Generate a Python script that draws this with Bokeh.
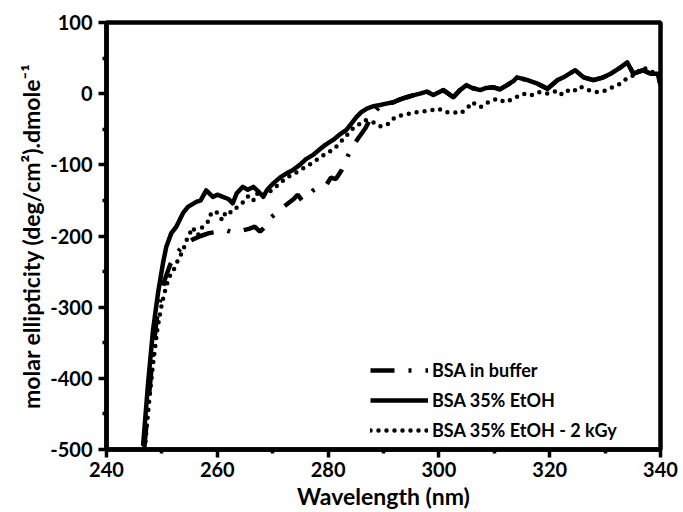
from bokeh.plotting import figure
from bokeh.models import FixedTicker, Legend, LegendItem
from bokeh.embed import file_html
from bokeh.resources import INLINE

# BSA in buffer (dashed)
wl_buffer = [246.8, 247.5, 248.3, 249.0, 249.8, 250.5, 251.5, 252.7, 254.0, 255.5, 257.0, 258.5,
             260.0, 260.7, 261.7, 262.7, 263.6, 264.6, 265.7, 266.8, 267.7, 268.5, 269.1, 270.3,
             271.5, 272.8, 273.8, 274.5, 275.3, 276.1, 277.3, 278.5, 279.7, 280.5, 281.4, 282.4,
             283.3, 284.2, 285.5, 286.7, 288.0, 289.4, 290.5, 291.8, 293.0, 294.2, 295.5,
             296.6, 297.8, 299.0, 300.0, 300.8, 301.7, 302.6, 303.8, 305.0, 306.0, 307.5, 308.5,
             309.9, 311.0, 312.3, 313.5, 314.1, 316.0, 317.8, 319.6, 321.4, 322.5, 324.6, 326.1,
             327.9, 329.7, 331.0, 332.8, 334.0, 335.1, 336.9, 338.2, 339.5, 340.0]
cd_buffer = [-500, -440, -370, -320, -285, -262, -240, -224, -212, -205, -200, -196,
             -194, -194, -192, -195, -193, -192, -190, -187, -194, -188, -178, -170,
             -162, -154, -148, -142, -150, -145, -136, -130, -128, -118, -120, -108,
             -92, -77, -62, -49, -30, -17, -14, -12, -8, -5, -2,
             0, 3, -2, 2, 5, 0, -5, 5, 12, 8, 5, 8,
             9, 6, 12, 18, 23, 19, 14, 7, 19, 23, 33, 23,
             19, 23, 28, 37, 44, 28, 33, 28, 28, 12]

# BSA 35% EtOH (solid)
wl_etoh = [246.6, 247.5, 248.4, 249.3, 250.2, 250.8, 251.7, 252.6, 253.8, 254.7, 256.2, 257.0,
           258.0, 259.2, 260.0, 261.0, 262.0, 262.8, 263.5, 264.6, 265.5, 266.5, 267.5, 268.3,
           269.0, 270.1, 271.3, 272.5, 273.5, 274.9, 276.0, 277.3, 278.5, 279.5, 280.9, 282.0,
           283.3, 284.2, 285.1, 286.0, 287.0, 288.0, 289.4, 290.5, 291.8, 293.0, 294.2, 295.5,
           296.6, 297.8, 299.0, 300.0, 300.8, 301.7, 302.6, 303.8, 305.0, 306.0, 307.5, 308.5,
           309.9, 311.0, 312.3, 313.5, 314.1, 316.0, 317.8, 319.6, 321.4, 322.5, 324.6, 326.1,
           327.9, 329.7, 331.0, 332.8, 334.0, 335.1, 336.9, 338.2, 339.5, 340.0]
cd_etoh = [-495, -407, -332, -280, -238, -215, -196, -187, -168, -159, -152, -150,
           -136, -145, -142, -145, -148, -154, -140, -131, -135, -131, -138, -145,
           -135, -126, -118, -112, -108, -100, -92, -86, -78, -72, -65, -58,
           -51, -42, -33, -26, -21, -18, -16, -14, -12, -8, -5, -2,
           0, 3, -2, 2, 5, 0, -5, 5, 12, 8, 5, 8,
           9, 6, 12, 18, 23, 19, 14, 7, 19, 23, 33, 23,
           19, 23, 28, 37, 44, 28, 33, 28, 28, 12]

# BSA 35% EtOH - 2 kGy (dotted)
wl_irr = [246.9, 247.6, 248.4, 249.2, 250.0, 250.8, 251.5, 252.3, 253.0, 253.8, 254.3, 254.9,
          255.5, 256.0, 256.5, 257.1, 257.7, 258.3, 258.9, 259.4, 259.9, 260.4, 260.9, 261.6,
          262.5, 263.5, 264.6, 265.7, 266.6, 267.4, 268.3, 269.8, 271.0, 272.5, 274.0, 275.5,
          277.0, 278.5, 280.0, 280.9, 282.0, 283.2, 284.3, 285.4, 286.7, 288.1, 289.4, 290.6,
          292.1, 293.4, 294.8, 296.0, 297.2, 298.8, 299.9, 301.1, 302.6, 303.8, 305.1, 306.0,
          307.5, 308.9, 310.5, 312.0, 313.4, 315.2, 316.5, 318.0, 319.5, 321.0, 321.9, 323.0,
          324.1, 325.5, 327.0, 328.6, 330.4, 331.5, 332.8, 333.7, 334.6, 335.8, 336.9, 338.0,
          339.5, 340.0]
cd_irr = [-500, -440, -380, -330, -295, -270, -255, -245, -232, -221, -208, -199,
          -188, -193, -199, -189, -185, -180, -168, -170, -167, -172, -178, -165,
          -167, -160, -153, -143, -150, -138, -142, -136, -128, -118, -112, -105,
          -98, -90, -82, -79, -70, -60, -50, -44, -37, -40, -46, -44,
          -33, -30, -28, -26, -25, -23, -21, -26, -26, -28, -21, -12,
          -19, -12, -7, -12, -7, 0, -3, 2, 0, 3, -2, 5,
          2, 10, 5, 2, 5, 10, 14, 20, 23, 30, 37, 32,
          28, 25]

labels = ["BSA in buffer", "BSA 35% EtOH", "BSA 35% EtOH - 2 kGy"]
x_ticks = [240, 260, 280, 300, 320, 340]
x_minor = [250, 270, 290, 310, 330]
y_ticks = [-500, -400, -300, -200, -100, 0, 100]
y_minor = [-450, -350, -250, -150, -50, 50]

FONT = "Lato"

p = figure(width=683, height=512, x_range=(240, 340), y_range=(-500, 100),
           output_backend="svg", toolbar_location=None,
           min_border_left=106, min_border_right=23, min_border_top=22, min_border_bottom=62)
p.background_fill_color = "white"
p.border_fill_color = "white"
p.grid.visible = False
p.outline_line_color = "black"
p.outline_line_width = 4.5

r_buf = p.line(wl_buffer, cd_buffer, line_color="black", line_width=4.5, line_dash="24 14 3 14")
r_eth = p.line(wl_etoh, cd_etoh, line_color="black", line_width=4.5, line_join="round")
r_irr = p.line(wl_irr, cd_irr, line_color="black", line_width=4.5, line_dash="0 8", line_cap="round")

for ax, ticks, minor in ((p.xaxis[0], x_ticks, x_minor), (p.yaxis[0], y_ticks, y_minor)):
    ax.ticker = FixedTicker(ticks=ticks, minor_ticks=minor)
    ax.major_label_overrides = {t: str(t) for t in ticks}
    ax.axis_line_width = 4.5
    ax.major_tick_line_width = 3.5
    ax.minor_tick_line_width = 3.5
    ax.major_tick_out = 8
    ax.major_tick_in = 0
    ax.minor_tick_out = 4
    ax.minor_tick_in = 0
    ax.major_label_text_font = FONT
    ax.major_label_text_font_style = "bold"
    ax.major_label_text_font_size = "20px"
    ax.major_label_text_color = "black"
    ax.axis_label_text_font = FONT
    ax.axis_label_text_font_style = "bold"
    ax.axis_label_text_font_size = "23px"
    ax.axis_label_text_color = "black"
    ax.major_label_standoff = 4
    ax.axis_label_standoff = 2

p.yaxis[0].major_label_standoff = 6
p.xaxis.axis_label = "Wavelength (nm)"
p.yaxis.axis_label = "molar ellipticity (deg/cm\u00b2).dmole\u207b\u00b9"

legend = Legend(items=[LegendItem(label=labels[0], renderers=[r_buf]),
                       LegendItem(label=labels[1], renderers=[r_eth]),
                       LegendItem(label=labels[2], renderers=[r_irr])],
                location=(264, 8), border_line_color=None, background_fill_alpha=0,
                padding=0, margin=0, spacing=8, glyph_width=58, glyph_height=20,
                label_height=20, label_standoff=4,
                label_text_font=FONT, label_text_font_style="bold",
                label_text_font_size="18px", label_text_color="black")
p.add_layout(legend)

open("out.html", "w").write(file_html(p, INLINE))
